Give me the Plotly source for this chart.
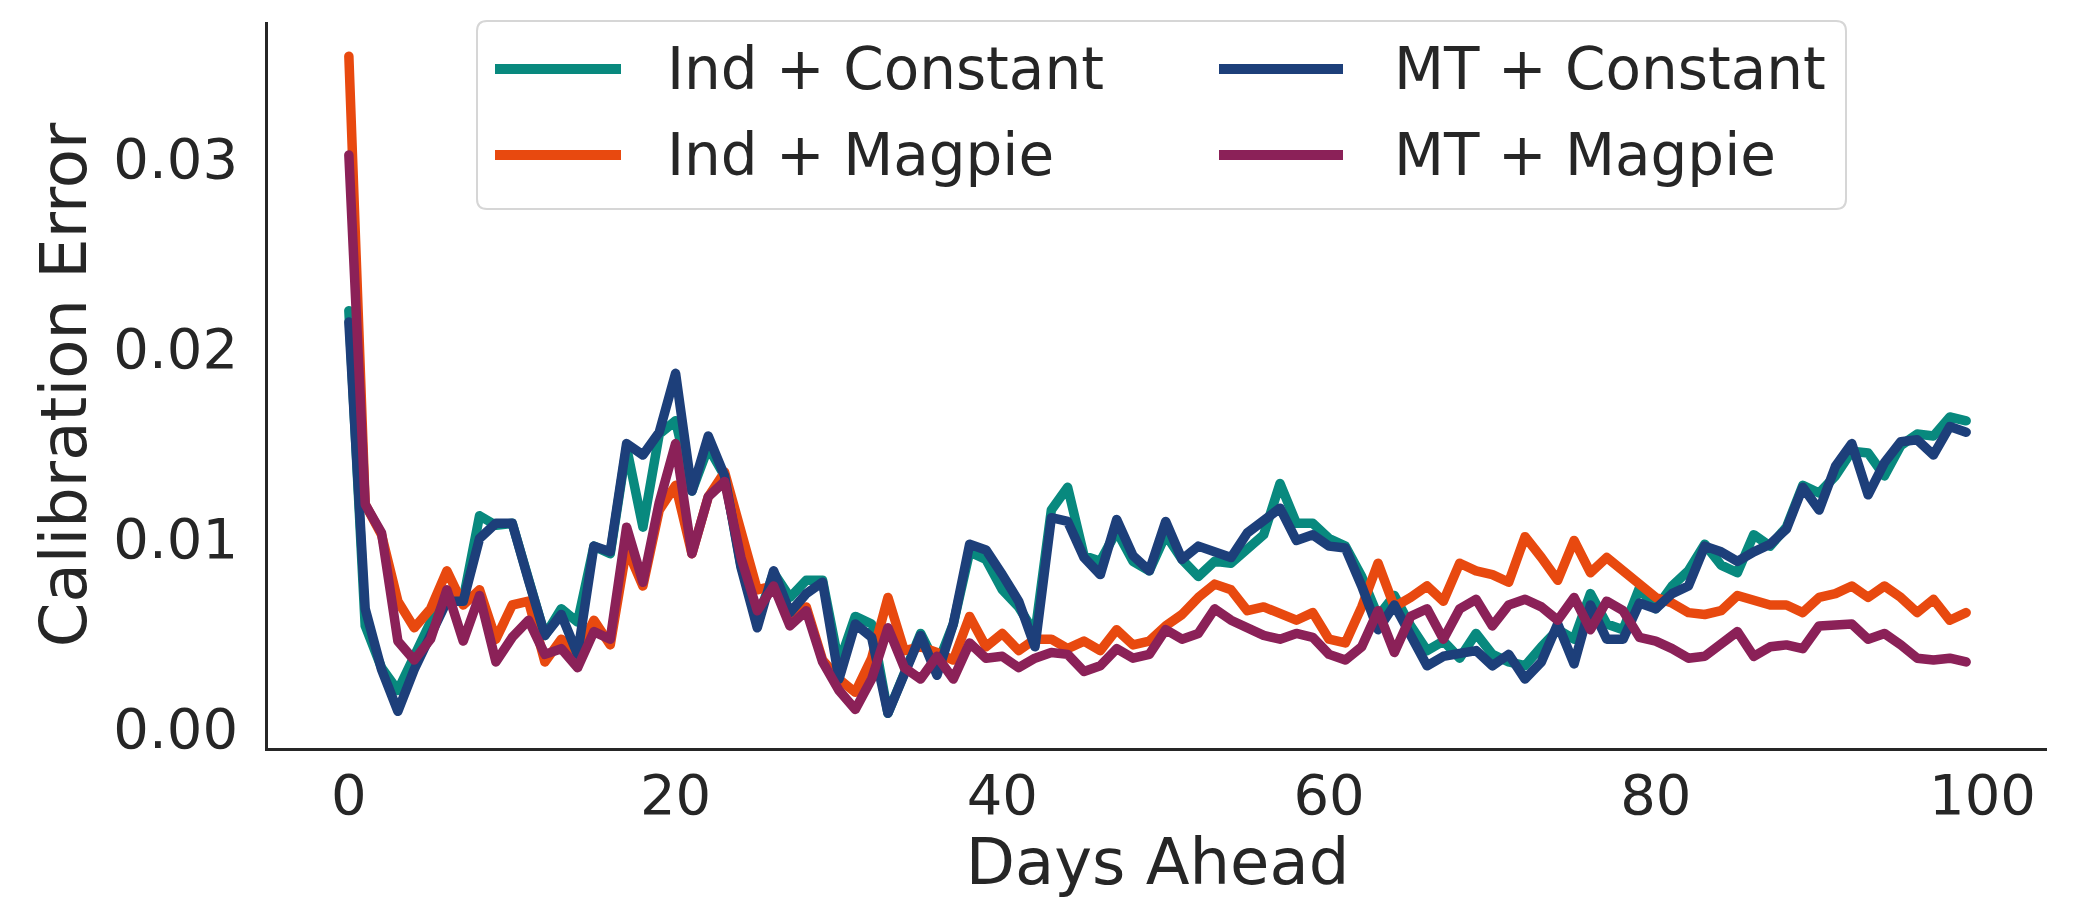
import plotly.graph_objects as go

# ---- data -----------------------------------------------------------------
days = list(range(100))

ind_constant = [
    0.0220, 0.0054, 0.0032, 0.0020, 0.0038, 0.0056, 0.0068, 0.0068, 0.0112, 0.0107,
    0.0108, 0.0078, 0.0049, 0.0063, 0.0056, 0.0096, 0.0092, 0.0148, 0.0106, 0.0155,
    0.0162, 0.0125, 0.0148, 0.0133, 0.0086, 0.0057, 0.0082, 0.0069, 0.0078, 0.0078,
    0.0034, 0.0059, 0.0055, 0.0008, 0.0029, 0.0050, 0.0033, 0.0055, 0.0093, 0.0089,
    0.0073, 0.0064, 0.0050, 0.0115, 0.0127, 0.0091, 0.0088, 0.0104, 0.0088, 0.0083,
    0.0102, 0.0089, 0.0080, 0.0088, 0.0087, 0.0095, 0.0102, 0.0129, 0.0108, 0.0108,
    0.0100, 0.0096, 0.0080, 0.0059, 0.0070, 0.0054, 0.0041, 0.0046, 0.0037, 0.0050,
    0.0039, 0.0035, 0.0033, 0.0043, 0.0052, 0.0047, 0.0071, 0.0055, 0.0052, 0.0074,
    0.0063, 0.0075, 0.0083, 0.0097, 0.0086, 0.0082, 0.0102, 0.0096, 0.0106, 0.0128,
    0.0124, 0.0133, 0.0146, 0.0145, 0.0133, 0.0149, 0.0155, 0.0154, 0.0164, 0.0162,
]

ind_magpie = [
    0.0354, 0.0118, 0.0102, 0.0067, 0.0053, 0.0063, 0.0083, 0.0065, 0.0073, 0.0047,
    0.0065, 0.0067, 0.0035, 0.0047, 0.0039, 0.0057, 0.0044, 0.0095, 0.0075, 0.0115,
    0.0128, 0.0092, 0.0122, 0.0135, 0.0104, 0.0073, 0.0075, 0.0057, 0.0064, 0.0036,
    0.0026, 0.0019, 0.0037, 0.0069, 0.0041, 0.0043, 0.0040, 0.0036, 0.0059, 0.0043,
    0.0050, 0.0041, 0.0047, 0.0047, 0.0042, 0.0046, 0.0041, 0.0052, 0.0044, 0.0046,
    0.0054, 0.0060, 0.0069, 0.0076, 0.0073, 0.0062, 0.0064, 0.0060, 0.0057, 0.0061,
    0.0047, 0.0045, 0.0064, 0.0087, 0.0064, 0.0069, 0.0075, 0.0067, 0.0087, 0.0083,
    0.0081, 0.0077, 0.0101, 0.0090, 0.0078, 0.0099, 0.0082, 0.0090, 0.0083, 0.0077,
    0.0069, 0.0066, 0.0061, 0.0060, 0.0062, 0.0070, 0.0067, 0.0065, 0.0065, 0.0061,
    0.0069, 0.0071, 0.0075, 0.0069, 0.0075, 0.0069, 0.0061, 0.0068, 0.0057, 0.0061,
]

mt_constant = [
    0.0214, 0.0063, 0.0031, 0.0009, 0.0031, 0.0049, 0.0067, 0.0067, 0.0100, 0.0108,
    0.0108, 0.0078, 0.0049, 0.0060, 0.0039, 0.0096, 0.0093, 0.0150, 0.0144, 0.0156,
    0.0187, 0.0125, 0.0154, 0.0133, 0.0085, 0.0053, 0.0083, 0.0061, 0.0071, 0.0077,
    0.0026, 0.0055, 0.0048, 0.0008, 0.0029, 0.0049, 0.0028, 0.0055, 0.0097, 0.0094,
    0.0081, 0.0067, 0.0043, 0.0111, 0.0109, 0.0090, 0.0081, 0.0110, 0.0091, 0.0083,
    0.0109, 0.0089, 0.0096, 0.0093, 0.0090, 0.0103, 0.0110, 0.0116, 0.0099, 0.0102,
    0.0096, 0.0095, 0.0075, 0.0052, 0.0065, 0.0050, 0.0033, 0.0038, 0.0039, 0.0041,
    0.0033, 0.0039, 0.0026, 0.0035, 0.0055, 0.0034, 0.0065, 0.0047, 0.0047, 0.0066,
    0.0063, 0.0071, 0.0075, 0.0096, 0.0093, 0.0088, 0.0093, 0.0097, 0.0105, 0.0127,
    0.0115, 0.0138, 0.0150, 0.0123, 0.0140, 0.0151, 0.0152, 0.0144, 0.0159, 0.0156,
]

mt_magpie = [
    0.0302, 0.0118, 0.0103, 0.0046, 0.0036, 0.0047, 0.0073, 0.0046, 0.0070, 0.0035,
    0.0048, 0.0057, 0.0039, 0.0042, 0.0032, 0.0051, 0.0047, 0.0106, 0.0077, 0.0119,
    0.0150, 0.0092, 0.0122, 0.0130, 0.0090, 0.0062, 0.0075, 0.0054, 0.0062, 0.0035,
    0.0020, 0.0010, 0.0026, 0.0053, 0.0032, 0.0026, 0.0038, 0.0026, 0.0045, 0.0037,
    0.0038, 0.0032, 0.0037, 0.0040, 0.0039, 0.0030, 0.0033, 0.0042, 0.0037, 0.0039,
    0.0052, 0.0047, 0.0050, 0.0063, 0.0057, 0.0053, 0.0049, 0.0047, 0.0050, 0.0048,
    0.0039, 0.0036, 0.0043, 0.0062, 0.0040, 0.0059, 0.0063, 0.0047, 0.0063, 0.0068,
    0.0054, 0.0065, 0.0068, 0.0064, 0.0057, 0.0069, 0.0052, 0.0067, 0.0062, 0.0048,
    0.0046, 0.0042, 0.0037, 0.0038, 0.0045, 0.0051, 0.0038, 0.0043, 0.0044, 0.0042,
    0.0054, 0.0054, 0.0055, 0.0047, 0.0050, 0.0044, 0.0037, 0.0036, 0.0037, 0.0035,
]

series_names = ["Ind + Constant", "Ind + Magpie", "MT + Constant", "MT + Magpie"]
series_values = [ind_constant, ind_magpie, mt_constant, mt_magpie]
series_colors = ["#08897e", "#e8490f", "#1d3f7a", "#8b2158"]

x_ticks = [0, 20, 40, 60, 80, 100]
y_ticks = [0.00, 0.01, 0.02, 0.03]

# ---- layout geometry (pixels) ---------------------------------------------
W, H = 2084, 899
L, R, T, B = 268, 2047, 22, 748
TEXT = "#262626"
FONT = "DejaVu Sans"


def px_x(p):
    return (p - L) / (R - L)


def px_y(p):
    return (B - p) / (B - T)


fig = go.Figure()
for name, vals, col in zip(series_names, series_values, series_colors):
    fig.add_trace(go.Scatter(
        x=days, y=vals, mode="lines", name=name,
        line=dict(color=col, width=9.5), showlegend=False,
    ))

# ---- legend: rounded frame, two columns of long line keys -----------------
bx0, bx1, by0, by1, rad = 477, 1846, 21, 209, 10
frame = (
    f"M {px_x(bx0 + rad)},{px_y(by0)} L {px_x(bx1 - rad)},{px_y(by0)} "
    f"Q {px_x(bx1)},{px_y(by0)} {px_x(bx1)},{px_y(by0 + rad)} "
    f"L {px_x(bx1)},{px_y(by1 - rad)} "
    f"Q {px_x(bx1)},{px_y(by1)} {px_x(bx1 - rad)},{px_y(by1)} "
    f"L {px_x(bx0 + rad)},{px_y(by1)} "
    f"Q {px_x(bx0)},{px_y(by1)} {px_x(bx0)},{px_y(by1 - rad)} "
    f"L {px_x(bx0)},{px_y(by0 + rad)} "
    f"Q {px_x(bx0)},{px_y(by0)} {px_x(bx0 + rad)},{px_y(by0)} Z"
)
fig.add_shape(type="path", path=frame, xref="paper", yref="paper",
              line=dict(color="#d6d6d6", width=2), fillcolor="rgba(255,255,255,0.85)",
              layer="above")

rows_y = [69, 155]
cols = [(495, 621, 665), (1219, 1343, 1392)]
for i, (name, col) in enumerate(zip(series_names, series_colors)):
    c, r = divmod(i, 2)
    lx0, lx1, tx = cols[c]
    yy = px_y(rows_y[r])
    fig.add_shape(type="line", xref="paper", yref="paper",
                  x0=px_x(lx0), x1=px_x(lx1), y0=yy, y1=yy,
                  line=dict(color=col, width=10), layer="above")
    fig.add_annotation(text=name, xref="paper", yref="paper",
                       x=px_x(tx), y=yy, xanchor="left", yanchor="middle",
                       showarrow=False, font=dict(family=FONT, size=58, color=TEXT))

fig.update_layout(
    width=W, height=H,
    margin=dict(l=L, r=W - R, t=T, b=H - B, pad=0, autoexpand=False),
    paper_bgcolor="white", plot_bgcolor="white",
    font=dict(family=FONT, color=TEXT),
    showlegend=False,
)
fig.update_xaxes(
    automargin=False,
    range=[-4.95, 103.95], tickvals=x_ticks, ticktext=[str(v) for v in x_ticks],
    showgrid=False, zeroline=False, showline=True, linecolor=TEXT, linewidth=2.5,
    ticks="", ticklabelstandoff=-4, tickfont=dict(family=FONT, size=56, color=TEXT),
    title=dict(text="Days Ahead", font=dict(family=FONT, size=64, color=TEXT), standoff=21),
)
fig.update_yaxes(
    automargin=False,
    range=[-0.00103, 0.0372], tickvals=y_ticks, ticktext=[f"{v:.2f}" for v in y_ticks],
    showgrid=False, zeroline=False, showline=True, linecolor=TEXT, linewidth=2.5,
    ticks="", ticklabelstandoff=16, tickfont=dict(family=FONT, size=56, color=TEXT),
    title=dict(text="Calibration Error", font=dict(family=FONT, size=64, color=TEXT), standoff=6),
)

round_joins = (
    "document.querySelectorAll('.scatterlayer .js-line').forEach(function(p){"
    "p.style.strokeLinejoin='round';p.style.strokeLinecap='round';});"
)
fig.write_html("out.html", post_script=round_joins)
